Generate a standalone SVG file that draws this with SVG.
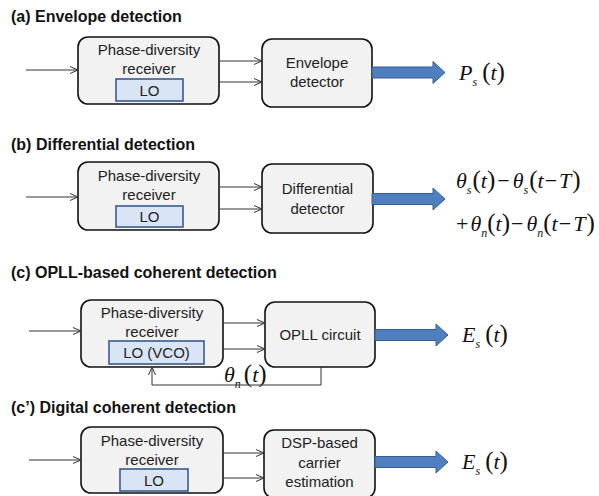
<svg xmlns="http://www.w3.org/2000/svg" width="599" height="496" viewBox="0 0 599 496">
  <defs>
    <marker id="vee" viewBox="0 0 10 10" refX="9" refY="5" markerWidth="10" markerHeight="10" markerUnits="userSpaceOnUse" orient="auto">
      <path d="M1,1.5 L9,5 L1,8.5" fill="none" stroke="#333" stroke-width="1"/>
    </marker>
    <!-- wide block arrow, drawn from the origin to the right -->
    <path id="bigArrow" d="M0,-5.5 H61 V-11 L73,0 L61,11 V5.5 H0 Z"/>
  </defs>
  <style>
    .title { font-family: "Liberation Sans", Arial, sans-serif; font-weight: bold; font-size: 16px; fill: #111; }
    .box { fill: #f2f2f2; stroke: #111; stroke-width: 1.6; }
    .lo { fill: #d9e4f5; stroke: #3a5a8c; stroke-width: 1.6; }
    .lbl { font-family: "Liberation Sans", Arial, sans-serif; font-size: 15px; fill: #222; text-anchor: middle; }
    .wire { fill: none; stroke: #333; stroke-width: 1; marker-end: url(#vee); }
    .fat { fill: #4f7fbf; stroke: #375f94; stroke-width: 1; }
    .math { font-family: "Liberation Serif", "Times New Roman", serif; font-size: 22px; fill: #111; }
    .it { font-style: italic; }
    .sub { font-size: 12px; font-style: italic; }
    .par { font-size: 25px; }
  </style>
  <rect width="599" height="496" fill="#ffffff"/>

  <!-- section titles -->
  <text class="title" x="11" y="22">(a) Envelope detection</text>
  <text class="title" x="11" y="150">(b) Differential detection</text>
  <text class="title" x="11" y="278">(c) OPLL-based coherent detection</text>
  <text class="title" x="11" y="413">(c’) Digital coherent detection</text>

  <!-- (a) -->
  <g id="a-receiver">
    <rect class="box" x="78" y="37" width="141" height="67" rx="10"/>
    <text class="lbl" x="149" y="55">Phase-diversity</text>
    <text class="lbl" x="149" y="74">receiver</text>
    <rect class="lo" x="116" y="79" width="67" height="22"/>
    <text class="lbl" x="149.5" y="96">LO</text>
  </g>
  <g id="a-detector">
    <rect class="box" x="262" y="39" width="110" height="68" rx="10"/>
    <text class="lbl" x="317" y="68">Envelope</text>
    <text class="lbl" x="317" y="87">detector</text>
  </g>
  <g id="a-output">
    <text class="math" x="459" y="80"><tspan class="it">P</tspan><tspan class="sub" dx="0" dy="6">s</tspan><tspan class="par" dx="5" dy="-6">(</tspan><tspan class="it">t</tspan><tspan class="par">)</tspan></text>
  </g>

  <!-- (b) -->
  <g id="b-receiver">
    <rect class="box" x="78" y="162" width="141" height="68" rx="10"/>
    <text class="lbl" x="149" y="181">Phase-diversity</text>
    <text class="lbl" x="149" y="200">receiver</text>
    <rect class="lo" x="116" y="206" width="67" height="21"/>
    <text class="lbl" x="149.5" y="222">LO</text>
  </g>
  <g id="b-detector">
    <rect class="box" x="262" y="164" width="111" height="69" rx="10"/>
    <text class="lbl" x="317.5" y="194">Differential</text>
    <text class="lbl" x="317.5" y="214">detector</text>
  </g>
  <g id="b-output">
    <text class="math" x="456" y="188"><tspan class="it">θ</tspan><tspan class="sub" dx="0" dy="6">s</tspan><tspan class="par" dx="1" dy="-6">(</tspan><tspan class="it">t</tspan><tspan class="par">)</tspan><tspan dx="2">−</tspan><tspan class="it" dx="3">θ</tspan><tspan class="sub" dx="0" dy="6">s</tspan><tspan class="par" dx="1" dy="-6">(</tspan><tspan class="it">t</tspan><tspan dx="1">−</tspan><tspan class="it" dx="2">T</tspan><tspan class="par" dx="1">)</tspan></text>
    <text class="math" x="456" y="231"><tspan>+</tspan><tspan class="it" dx="2">θ</tspan><tspan class="sub" dx="0" dy="6">n</tspan><tspan class="par" dx="0" dy="-6">(</tspan><tspan class="it">t</tspan><tspan class="par">)</tspan><tspan dx="1">−</tspan><tspan class="it" dx="3">θ</tspan><tspan class="sub" dx="0" dy="6">n</tspan><tspan class="par" dx="0" dy="-6">(</tspan><tspan class="it">t</tspan><tspan dx="1">−</tspan><tspan class="it" dx="2">T</tspan><tspan class="par" dx="1">)</tspan></text>
  </g>

  <!-- (c) -->
  <g id="c-receiver">
    <rect class="box" x="81" y="300" width="142" height="67" rx="10"/>
    <text class="lbl" x="152" y="318">Phase-diversity</text>
    <text class="lbl" x="152" y="337">receiver</text>
    <rect class="lo" x="109" y="341" width="95" height="23"/>
    <text class="lbl" x="156.5" y="358">LO (VCO)</text>
  </g>
  <g id="c-opll">
    <rect class="box" x="265" y="302" width="110" height="65" rx="10"/>
    <text class="lbl" x="320" y="340">OPLL circuit</text>
  </g>
  <g id="c-output">
    <text class="math" x="462" y="342"><tspan class="it">E</tspan><tspan class="sub" dx="0" dy="6">s</tspan><tspan class="par" dx="5" dy="-6">(</tspan><tspan class="it">t</tspan><tspan class="par">)</tspan></text>
  </g>
  <g id="c-feedback-label">
    <text class="math" x="224" y="382"><tspan class="it">θ</tspan><tspan class="sub" dx="0" dy="6">n</tspan><tspan class="par" dx="3" dy="-6">(</tspan><tspan class="it">t</tspan><tspan class="par">)</tspan></text>
  </g>

  <!-- (c') -->
  <g id="d-receiver">
    <rect class="box" x="81" y="427" width="142" height="66" rx="10"/>
    <text class="lbl" x="152" y="446">Phase-diversity</text>
    <text class="lbl" x="152" y="465">receiver</text>
    <rect class="lo" x="120" y="469" width="68" height="22"/>
    <text class="lbl" x="154" y="486">LO</text>
  </g>
  <g id="d-dsp">
    <rect class="box" x="264" y="430" width="111" height="68" rx="10"/>
    <text class="lbl" x="319.5" y="448">DSP-based</text>
    <text class="lbl" x="319.5" y="468">carrier</text>
    <text class="lbl" x="319.5" y="487">estimation</text>
  </g>
  <g id="d-output">
    <text class="math" x="462" y="469"><tspan class="it">E</tspan><tspan class="sub" dx="0" dy="6">s</tspan><tspan class="par" dx="5" dy="-6">(</tspan><tspan class="it">t</tspan><tspan class="par">)</tspan></text>
  </g>

  <!-- connectors -->
  <g id="connectors">
    <!-- (a) -->
    <line class="wire" x1="26" y1="70" x2="78" y2="70"/>
    <line class="wire" x1="219" y1="61" x2="262" y2="61"/>
    <line class="wire" x1="219" y1="82" x2="262" y2="82"/>
    <use href="#bigArrow" class="fat" x="372" y="72.5"/>
    <!-- (b) -->
    <line class="wire" x1="26" y1="197" x2="78" y2="197"/>
    <line class="wire" x1="219" y1="187" x2="262" y2="187"/>
    <line class="wire" x1="219" y1="209" x2="262" y2="209"/>
    <use href="#bigArrow" class="fat" x="372" y="199"/>
    <!-- (c) -->
    <line class="wire" x1="29" y1="331" x2="81" y2="331"/>
    <line class="wire" x1="223" y1="323" x2="265" y2="323"/>
    <line class="wire" x1="223" y1="349" x2="265" y2="349"/>
    <use href="#bigArrow" class="fat" x="375" y="335"/>
    <polyline class="wire" points="321,367 321,385 152,385 152,367"/>
    <!-- (c') -->
    <line class="wire" x1="29" y1="460" x2="81" y2="460"/>
    <line class="wire" x1="223" y1="453" x2="264" y2="453"/>
    <line class="wire" x1="223" y1="478" x2="264" y2="478"/>
    <use href="#bigArrow" class="fat" x="375" y="462"/>
  </g>
</svg>
